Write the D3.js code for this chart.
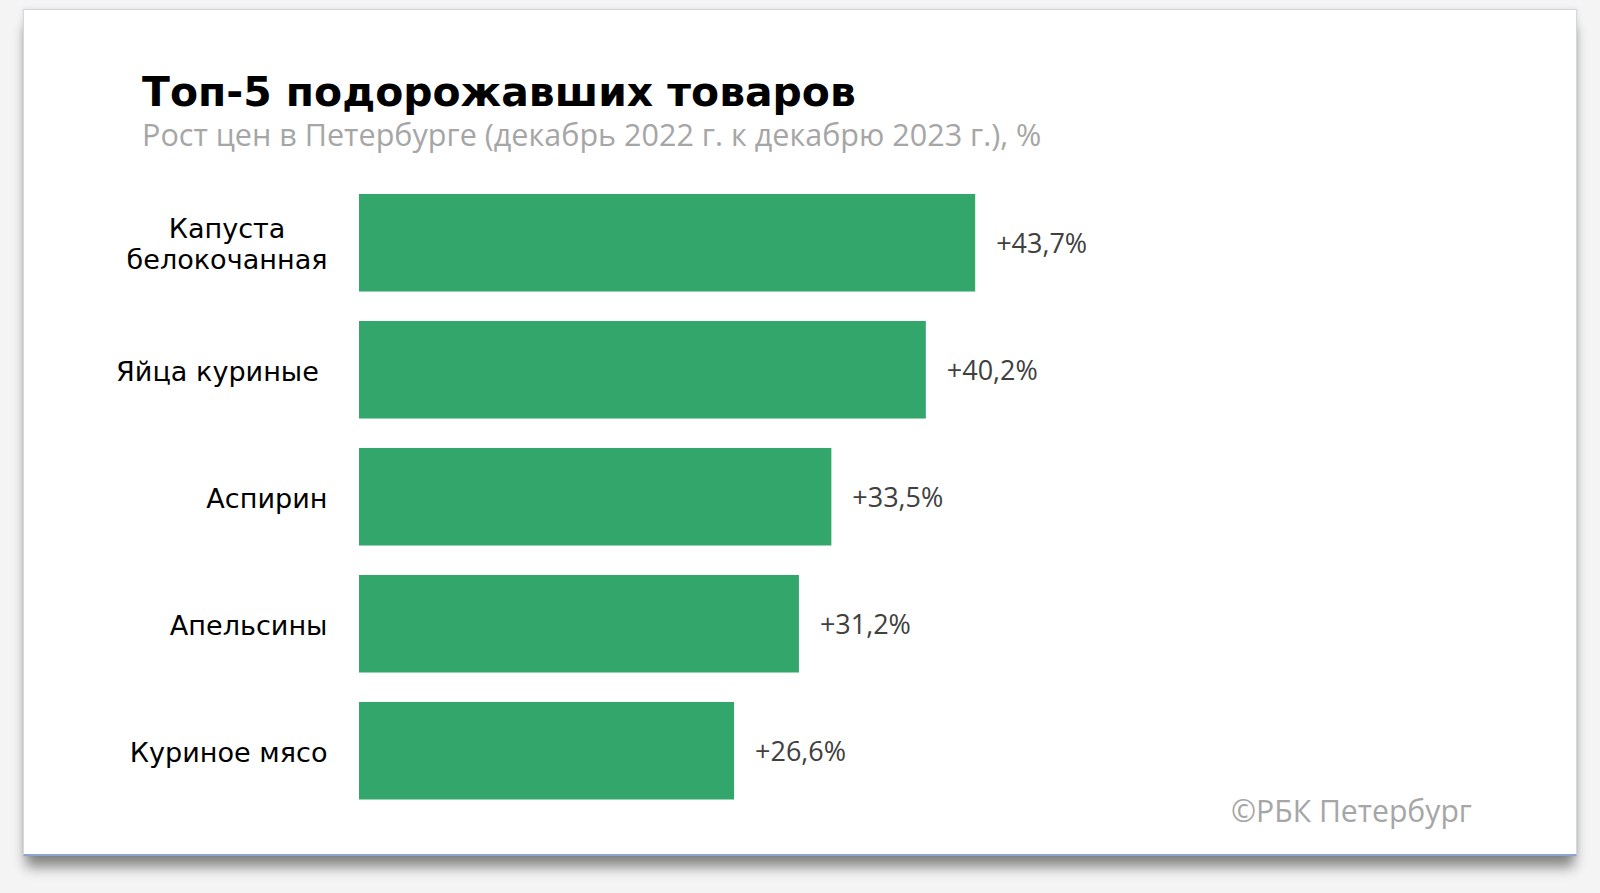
<!DOCTYPE html>
<html>
<head>
<meta charset="utf-8">
<script src="https://cdn.jsdelivr.net/npm/d3@7"></script>
<style>
  html, body { margin: 0; padding: 0; background: #f4f4f5; width: 1600px; height: 893px; overflow: hidden; }
  #card { position: absolute; left: 23px; top: 9px; width: 1552px; height: 844px; background: #fff;
          border: 1px solid #d3d7e2; border-bottom: 2px solid #8fa5cf;
          box-shadow: 0 14px 12px -3px rgba(0,0,0,0.45), 0 0 5px rgba(0,0,0,0.10); }
  svg { position: absolute; left: 0; top: 0; }
</style>
</head>
<body>
<div id="card"></div>
<svg id="chart" width="1600" height="893"></svg>
<script>
const title = "Топ-5 подорожавших товаров";
const subtitle = "Рост цен в Петербурге (декабрь 2022 г. к декабрю 2023 г.), %";
const source = "©РБК Петербург";
const categories = [["Капуста", "белокочанная"], ["Яйца куриные\u00A0"], ["Аспирин"], ["Апельсины"], ["Куриное мясо"]];
const values = [43.7, 40.2, 33.5, 31.2, 26.6];
const valueLabels = ["+43,7%", "+40,2%", "+33,5%", "+31,2%", "+26,6%"];

const svg = d3.select("#chart");
const keys = categories.map(c => c.join(" "));

const x = d3.scaleLinear().domain([0, 50]).range([359, 1064]);
const y = d3.scaleBand().domain(keys).range([194, 799.5]).paddingInner(0.232).paddingOuter(0);

function fit(sel, target) {
  const w = sel.node().getComputedTextLength();
  const fs = parseFloat(sel.attr("font-size"));
  return fs * target / w;
}

// Title
const t = svg.append("text").attr("x", 142).attr("y", 106)
  .attr("font-family", "DejaVu Sans").attr("font-weight", "bold").attr("font-size", 40)
  .attr("fill", "#000").text(title);
t.attr("font-size", fit(t, 714));

const st = svg.append("text").attr("x", 142).attr("y", 146)
  .attr("font-family", "Open Sans").attr("font-size", 28)
  .attr("fill", "#a6a6a6").text(subtitle);
st.attr("font-size", fit(st, 900));

// Bars
svg.append("g").selectAll("rect").data(values).join("rect")
  .attr("x", x(0))
  .attr("y", (d, i) => y(keys[i]))
  .attr("width", d => x(d) - x(0))
  .attr("height", y.bandwidth())
  .attr("fill", "#33a66c");

// Value labels
const probeV = svg.append("text").attr("font-family", "Open Sans").attr("font-size", 26).text(valueLabels[0]);
const vfs = fit(probeV, 91); probeV.remove();
svg.append("g").selectAll("text").data(values).join("text")
  .attr("x", d => x(d) + 21)
  .attr("y", (d, i) => y(keys[i]) + y.bandwidth() / 2 + 10.5)
  .attr("font-family", "Open Sans").attr("font-size", vfs)
  .attr("fill", "#404040")
  .text((d, i) => valueLabels[i]);

// Category labels
const probeC = svg.append("text").attr("font-family", "DejaVu Sans").attr("font-size", 22).text("белокочанная");
const cfs = fit(probeC, 201); probeC.remove();
const labelRight = 327.5;
const lineGap = 31;
const cg = svg.append("g").attr("font-family", "DejaVu Sans").attr("font-size", cfs).attr("fill", "#000");
categories.forEach((lines, i) => {
  const cy = y(keys[i]) + y.bandwidth() / 2 + 11;
  if (lines.length === 1) {
    cg.append("text").attr("x", labelRight).attr("y", cy).attr("text-anchor", "end").text(lines[0]);
  } else {
    const g = cg.append("text").attr("text-anchor", "middle");
    const tmp = lines.map(l => {
      const tt = cg.append("text").text(l);
      const w = tt.node().getComputedTextLength(); tt.remove(); return w;
    });
    const cx = labelRight - d3.max(tmp) / 2;
    lines.forEach((l, j) => {
      g.append("tspan").attr("x", cx)
        .attr("y", cy + (j - (lines.length - 1) / 2) * lineGap)
        .text(l);
    });
  }
});

// Source
const src = svg.append("text").attr("x", 1231).attr("y", 821.5)
  .attr("font-family", "Open Sans").attr("font-size", 28)
  .attr("fill", "#a6a6a6").text(source);
src.attr("font-size", fit(src, 241));
</script>
</body>
</html>
